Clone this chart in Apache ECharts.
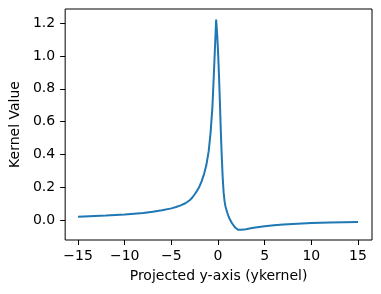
<!DOCTYPE html>
<html><head><meta charset="utf-8">
<script src="https://cdn.jsdelivr.net/npm/echarts@6/dist/echarts.min.js"></script>
<style>html,body{margin:0;padding:0;background:#fff}#c{width:381px;height:294px}</style>
</head><body><div id="c"></div>
<script>
const xValues = [-15,-12,-10,-8,-7,-6,-5,-4.5,-4,-3.5,-3,-2.75,-2.5,-2.25,-2,-1.75,-1.5,-1.25,-1,-0.8,-0.6,-0.4,-0.3,-0.2,-0.1,0,0.1,0.2,0.3,0.4,0.5,0.6,0.7,0.8,0.9,1.0,1.1,1.25,1.5,1.78,2.14,2.5,3,3.5,4,5,6,7,8,10,12,15];
const kernelValues = [0.020,0.027,0.033,0.043,0.051,0.060,0.071,0.079,0.089,0.102,0.122,0.137,0.157,0.178,0.203,0.237,0.28,0.335,0.42,0.53,0.69,0.95,1.09,1.222,1.14,1.03,0.89,0.72,0.54,0.39,0.26,0.17,0.115,0.083,0.062,0.044,0.027,0.006,-0.02,-0.042,-0.060,-0.060,-0.056,-0.051,-0.046,-0.038,-0.032,-0.028,-0.024,-0.019,-0.016,-0.012];
const xTicks = [-15,-10,-5,0,5,10,15];
const yTicks = [0,0.2,0.4,0.6,0.8,1.0,1.2];

const data = xValues.map((x,i)=>[x,kernelValues[i]]);
const font = 'DejaVu Sans';
const chart = echarts.init(document.getElementById('c'), null, {renderer:'canvas'});
chart.setOption({
  animation:false,
  grid:{left:62,right:9,top:9,bottom:54,show:true,borderColor:'#000',borderWidth:1,backgroundColor:'transparent'},
  xAxis:{type:'value',min:-16.38,max:16.5,
    name:'Projected y-axis (ykernel)',nameLocation:'middle',nameGap:29,
    nameTextStyle:{fontFamily:font,fontSize:14,color:'#000'},
    axisLine:{show:false,onZero:false},splitLine:{show:false},
    axisTick:{show:true,inside:false,length:5,customValues:xTicks,lineStyle:{color:'#000',width:1}},
    axisLabel:{customValues:xTicks,margin:9,fontFamily:font,fontSize:14,color:'#000',
      formatter:v=>String(v).replace('-','\u2212')}},
  yAxis:{type:'value',min:-0.122,max:1.287,
    name:'Kernel Value',nameLocation:'middle',nameGap:42,nameRotate:90,
    nameTextStyle:{fontFamily:font,fontSize:14,color:'#000'},
    axisLine:{show:false,onZero:false},splitLine:{show:false},
    axisTick:{show:true,inside:false,length:5,customValues:yTicks,lineStyle:{color:'#000',width:1}},
    axisLabel:{customValues:yTicks,margin:10,fontFamily:font,fontSize:14,color:'#000',
      formatter:v=>v.toFixed(1)}},
  series:[{type:'line',data:data,showSymbol:false,smooth:false,
    lineStyle:{color:'#1f77b4',width:2}}]
});
</script></body></html>
